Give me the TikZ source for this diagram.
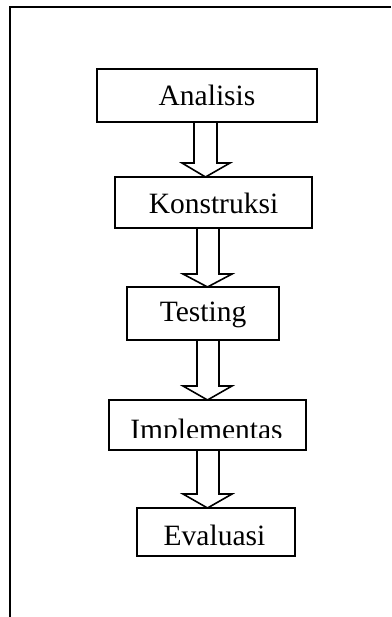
\documentclass[tikz,border=0pt]{standalone}
\usepackage{fontspec}
\setmainfont{Liberation Serif}
\begin{document}
\begin{tikzpicture}[x=1pt,y=-1pt,
  stage/.style={draw,line width=1.9pt,inner sep=0pt,outer sep=0pt,anchor=north west},
  caption/.style={anchor=base,inner sep=0pt,font=\fontsize{29.5}{30}\selectfont},
  blockarrow/.style={draw,line width=1.6pt,line join=miter}]
\useasboundingbox (0,0) rectangle (391,617);

% open page frame: left and top edges only
\draw[line width=2.4pt] (10,617) -- (10,7) -- (391,7);

% stage boxes
\node[stage,minimum width=220pt,minimum height=53pt] (analisis)     at (97,69)  {};
\node[stage,minimum width=197pt,minimum height=51pt] (konstruksi)   at (115,177) {};
\node[stage,minimum width=152pt,minimum height=53pt] (testing)      at (127,287) {};
\node[stage,minimum width=197pt,minimum height=50pt] (implementasi) at (109,400) {};
\node[stage,minimum width=158pt,minimum height=48pt] (evaluasi)     at (137,508) {};

% stage names
\node[caption] (tanalisis)   at (207,106)   {Analisis};
\node[caption] (tkonstruksi) at (213.5,214) {Konstruksi};
\node[caption] (ttesting)    at (203,321.7) {Testing};
\begin{scope}
  \clip (implementasi.north west) rectangle (306,437.5);
  \node[caption] (timplementasi) at (206.5,439) {Implementas};
\end{scope}
\node[caption] (tevaluasi)   at (214.5,545) {Evaluasi};

% hollow block arrows between stages
\draw[blockarrow] (194,0 |- analisis.south) -- (194,163) -- (182,163)
  -- (205.5,0 |- konstruksi.north) -- (230,163) -- (217,163) -- (217,0 |- analisis.south);
\draw[blockarrow] (197,0 |- konstruksi.south) -- (197,274) -- (183,274)
  -- (207.5,0 |- testing.north) -- (232,274) -- (219,274) -- (219,0 |- konstruksi.south);
\draw[blockarrow] (197,0 |- testing.south) -- (197,386) -- (183,386)
  -- (207.5,0 |- implementasi.north) -- (232,386) -- (219,386) -- (219,0 |- testing.south);
\draw[blockarrow] (197,0 |- implementasi.south) -- (197,494) -- (183,494)
  -- (207.5,0 |- evaluasi.north) -- (232,494) -- (219,494) -- (219,0 |- implementasi.south);
\end{tikzpicture}
\end{document}
